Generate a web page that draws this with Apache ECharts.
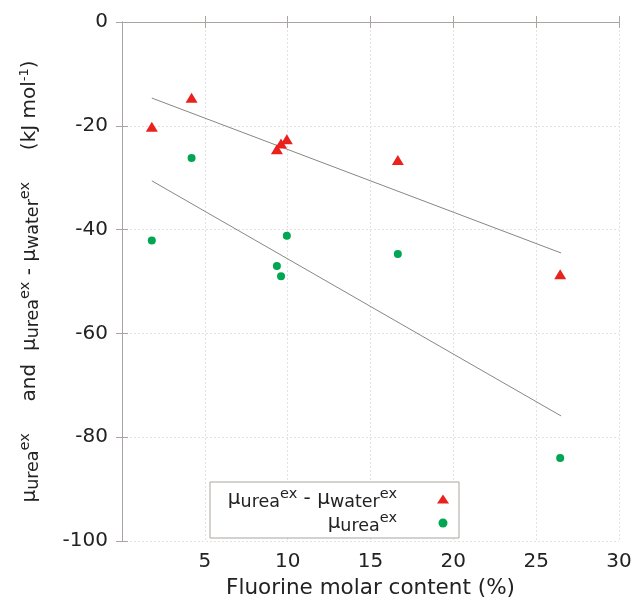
<!DOCTYPE html>
<html>
<head>
<meta charset="utf-8">
<script src="https://cdn.jsdelivr.net/npm/echarts@6/dist/echarts.min.js"></script>
<style>
html,body{margin:0;padding:0;background:#fff;}
#chart{width:638px;height:606px;}
</style>
</head>
<body>
<div id="chart"></div>
<script>
// ---- data ----
const fluorine = [1.8, 4.2, 9.35, 9.6, 9.95, 16.65, 26.45];
const diffValues = [-20.2, -14.6, -24.5, -23.4, -22.6, -26.6, -48.6];   // mu_urea^ex - mu_water^ex
const ureaValues = [-42.1, -26.2, -47.0, -49.0, -41.2, -44.7, -84.0];   // mu_urea^ex
const fitDiff = [[1.8, -14.65], [26.5, -44.5]];
const fitUrea = [[1.8, -30.6], [26.5, -75.9]];
const xTicks = {min: 0, max: 30, interval: 5};
const yTicks = {min: -100, max: 0, interval: 20};

const FONT = 'DejaVu Sans';
const frameColor = '#aaa5a0';
const red = '#e8221c';
const green = '#00a651';
const ink = '#222';

const richStyles = {
  mu:  {fontFamily: FONT, fontSize: 20, lineHeight: 24, verticalAlign: 'middle', color: ink},
  t:   {fontFamily: FONT, fontSize: 20, lineHeight: 24, verticalAlign: 'middle', color: ink},
  sub: {fontFamily: FONT, fontSize: 17.5, lineHeight: 13, verticalAlign: 'bottom', color: ink},
  sup: {fontFamily: FONT, fontSize: 14.5, lineHeight: 9, verticalAlign: 'top', color: ink},
  sup2:{fontFamily: FONT, fontSize: 13, lineHeight: 9, verticalAlign: 'top', color: ink}
};

const legendText = {
  diff: '{mu|μ}{sub|urea}{sup|ex}{t| - }{mu|μ}{sub|water}{sup|ex}',
  urea: '{mu|μ}{sub|urea}{sup|ex}'
};
const yName = '{mu|μ}{sub|urea}{sup|ex}{t|     and  }{mu|μ}{sub|urea}{sup|ex}{t| - }{mu|μ}{sub|water}{sup|ex}{t|     (kJ mol}{sup2|-1}{t|)}';

const chart = echarts.init(document.getElementById('chart'), null, {renderer: 'canvas'});

const pair = (xs, ys) => xs.map((x, i) => [x, ys[i]]);

const baseAxisLine = {show: true, lineStyle: {color: frameColor, width: 1}};
const baseTick = {show: true, inside: true, length: 6, lineStyle: {color: frameColor}};

chart.setOption({
  animation: false,
  textStyle: {fontFamily: FONT},
  grid: {left: 122, right: 19, top: 22, bottom: 65, containLabel: false},
  xAxis: [{
    type: 'value', min: xTicks.min, max: xTicks.max, interval: xTicks.interval,
    axisLine: baseAxisLine, axisTick: baseTick,
    axisLabel: {showMinLabel: false, fontFamily: FONT, fontSize: 20, color: ink, margin: 11},
    splitLine: {show: true, lineStyle: {color: '#e2e2e2', type: [2, 2], width: 1}},
    name: 'Fluorine molar content (%)', nameLocation: 'middle', nameGap: 36,
    nameTextStyle: {fontFamily: FONT, fontSize: 21.5, color: ink}
  }, {
    type: 'value', position: 'top', min: xTicks.min, max: xTicks.max, interval: xTicks.interval,
    axisLine: baseAxisLine, axisTick: baseTick, axisLabel: {show: false}, splitLine: {show: false}
  }],
  yAxis: [{
    type: 'value', min: yTicks.min, max: yTicks.max, interval: yTicks.interval,
    axisLine: baseAxisLine, axisTick: baseTick,
    axisLabel: {fontFamily: FONT, fontSize: 20, color: ink, margin: 14},
    splitLine: {show: true, lineStyle: {color: '#e2e2e2', type: [2, 2], width: 1}},
    name: yName,
    nameLocation: 'middle', nameRotate: 90, nameGap: 80,
    nameTextStyle: {rich: richStyles}
  }, {
    type: 'value', position: 'right', min: yTicks.min, max: yTicks.max, interval: yTicks.interval,
    axisLine: baseAxisLine, axisTick: baseTick, axisLabel: {show: false}, splitLine: {show: false}
  }],
  legend: {
    orient: 'vertical', align: 'right', left: 210, top: 482,
    padding: [5, 10, 3, 13], itemGap: 0, itemWidth: 12, itemHeight: 9,
    borderColor: frameColor, borderWidth: 1, backgroundColor: '#fff',
    data: ['diff', 'urea'],
    formatter: name => legendText[name],
    textStyle: {rich: richStyles, width: 174, align: 'right', padding: [0, 35, 0, 0], lineHeight: 24}
  },
  series: [{
    name: 'diff', type: 'scatter', data: pair(fluorine, diffValues),
    symbol: 'triangle', symbolSize: [12, 10], itemStyle: {color: red, opacity: 1}, z: 5
  }, {
    name: 'urea', type: 'scatter', data: pair(fluorine, ureaValues),
    symbol: 'circle', symbolSize: 8, itemStyle: {color: green, opacity: 1}, z: 5
  }, {
    name: 'fitDiff', type: 'line', data: fitDiff, symbol: 'none',
    lineStyle: {color: '#8a8580', width: 1}, z: 3
  }, {
    name: 'fitUrea', type: 'line', data: fitUrea, symbol: 'none',
    lineStyle: {color: '#8a8580', width: 1}, z: 3
  }]
});
</script>
</body>
</html>
